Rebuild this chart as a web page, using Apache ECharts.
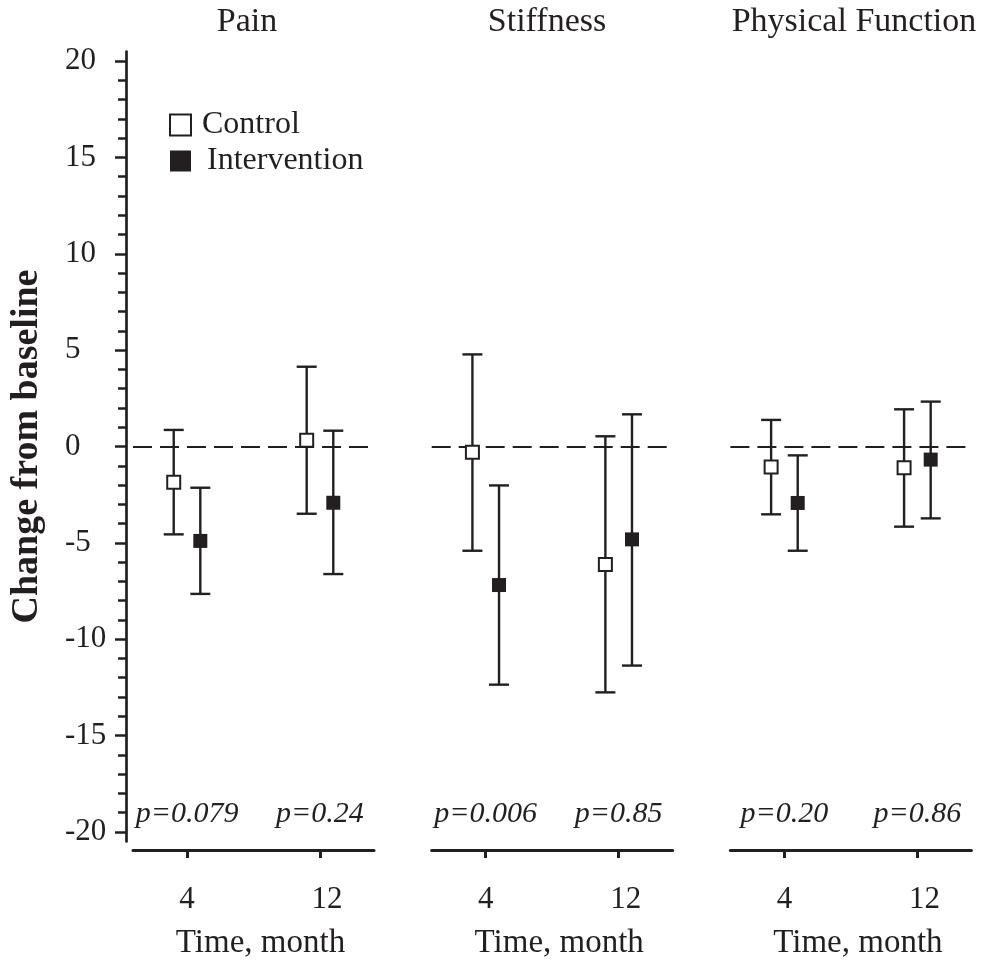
<!DOCTYPE html>
<html>
<head>
<meta charset="utf-8">
<style>
  html, body { margin: 0; padding: 0; background: #fff; }
  #chart { width: 983px; height: 963px; }
</style>
<script src="https://cdn.jsdelivr.net/npm/echarts@6/dist/echarts.min.js"></script>
</head>
<body>
<div id="chart"></div>
<script>
// Outcome panels and follow-up months
const panelTitles = ['Pain', 'Stiffness', 'Physical Function'];
const months = [4, 12];

// Mean change from baseline with 95% CI, ordered per panel: [4 mo, 12 mo]
const controlMean = [-1.85, 0.32, -0.30, -6.12, -1.06, -1.10];
const controlLow  = [-4.56, -3.49, -5.41, -12.76, -3.52, -4.16];
const controlHigh = [0.86, 4.14, 4.78, 0.53, 1.38, 1.93];

const interventionMean = [-4.90, -2.92, -7.19, -4.82, -2.93, -0.68];
const interventionLow  = [-7.65, -6.62, -12.36, -11.37, -5.41, -3.73];
const interventionHigh = [-2.14, 0.82, -2.02, 1.67, -0.46, 2.33];

// Between-group p-values per panel
const pValues = ['0.079', '0.24', '0.006', '0.85', '0.20', '0.86'];

// Axis ticks
const yMajorTicks = [-20, -15, -10, -5, 0, 5, 10, 15, 20];
const yMinorTicks = [];
for (let v = -20; v <= 20; v++) if (v % 5 !== 0) yMinorTicks.push(v);

const ink = '#231f20';
const serif = '"Liberation Serif", "Times New Roman", serif';
const dodge = 13.3;         // horizontal pixel shift of each group from the month tick
const capHalf = 10;         // half width of error-bar caps
const pLabelY = -19.1;      // vertical position of the p-value row in data units

const gridLefts = [133, 431.7, 730.4];
const gridWidth = 241;
const gridTop = 51.5;
const gridHeight = 790;

const chart = echarts.init(document.getElementById('chart'), null, { renderer: 'canvas' });

const grids = gridLefts.map(l => ({
  left: l, top: gridTop, width: gridWidth, height: gridHeight,
  containLabel: false, outerBoundsMode: 'none'
}));

const xAxes = gridLefts.map((l, i) => ({
  type: 'value', gridIndex: i, min: 0.75, max: 15.25, offset: 8.5, position: 'bottom',
  axisLine: { show: true, onZero: false, lineStyle: { color: ink, width: 3 } },
  axisTick: { show: true, customValues: months, length: 8, lineStyle: { color: ink, width: 3 } },
  axisLabel: {
    customValues: months, margin: 34,
    formatter: v => v === 12 ? '{s|12}' : '{n|' + v + '}',
    rich: {
      n: { fontFamily: serif, fontSize: 31, color: ink },
      s: { fontFamily: serif, fontSize: 31, color: ink, padding: [0, 0, 0, 14] }
    }
  },
  splitLine: { show: false },
  name: 'Time, month', nameLocation: 'middle', nameGap: 77,
  nameTextStyle: { fontFamily: serif, fontSize: 33, color: ink, padding: [0, 0, 0, 14] }
}));

const yBase = { type: 'value', min: -20.5, max: 20.5, splitLine: { show: false } };
const yAxes = [
  Object.assign({}, yBase, {
    gridIndex: 0, offset: 7, position: 'left',
    axisLine: { show: true, onZero: false, lineStyle: { color: ink, width: 2.7 } },
    axisTick: { show: true, customValues: yMajorTicks, length: 11, lineStyle: { color: ink, width: 2.5 } },
    axisLabel: {
      customValues: yMajorTicks, align: 'left', margin: 61,
      fontFamily: serif, fontSize: 31, color: ink
    },
    name: 'Change from baseline', nameLocation: 'middle', nameGap: 80,
    nameTextStyle: { fontFamily: serif, fontSize: 38, fontWeight: 'bold', color: ink }
  }),
  Object.assign({}, yBase, {
    gridIndex: 0, offset: 7, position: 'left',
    axisLine: { show: false, onZero: false },
    axisTick: { show: true, customValues: yMinorTicks, length: 8, lineStyle: { color: ink, width: 2.5 } },
    axisLabel: { show: false }
  }),
  Object.assign({}, yBase, { gridIndex: 1, show: false }),
  Object.assign({}, yBase, { gridIndex: 2, show: false })
];
const yIndexForPanel = [0, 2, 3];

function errorBarRenderer(shift) {
  return function (params, api) {
    const top = api.coord([api.value(0), api.value(2)]);
    const bot = api.coord([api.value(0), api.value(1)]);
    const cx = top[0] + shift;
    const style = { stroke: ink, lineWidth: 2.4 };
    return {
      type: 'group',
      children: [
        { type: 'line', shape: { x1: cx, y1: top[1], x2: cx, y2: bot[1] }, style },
        { type: 'line', shape: { x1: cx - capHalf, y1: top[1], x2: cx + capHalf, y2: top[1] }, style },
        { type: 'line', shape: { x1: cx - capHalf, y1: bot[1], x2: cx + capHalf, y2: bot[1] }, style }
      ]
    };
  };
}

const series = [];
panelTitles.forEach((title, p) => {
  const ax = { xAxisIndex: p, yAxisIndex: yIndexForPanel[p] };
  const idx = [2 * p, 2 * p + 1];
  const ctrlBars = idx.map((k, j) => [months[j], controlLow[k], controlHigh[k]]);
  const intBars = idx.map((k, j) => [months[j], interventionLow[k], interventionHigh[k]]);
  const ctrlPts = idx.map((k, j) => [months[j], controlMean[k]]);
  const intPts = idx.map((k, j) => [months[j], interventionMean[k]]);

  series.push(Object.assign({
    type: 'custom', name: 'ci-control-' + p, renderItem: errorBarRenderer(-dodge),
    encode: { x: 0, y: [1, 2] }, data: ctrlBars, silent: true, z: 3
  }, ax));
  series.push(Object.assign({
    type: 'custom', name: 'ci-intervention-' + p, renderItem: errorBarRenderer(dodge),
    encode: { x: 0, y: [1, 2] }, data: intBars, silent: true, z: 3
  }, ax));
  series.push(Object.assign({
    type: 'scatter', name: 'Control', data: ctrlPts, symbol: 'rect', symbolSize: 13,
    symbolOffset: [-dodge, 0], z: 5,
    itemStyle: { color: '#ffffff', borderColor: ink, borderWidth: 2, opacity: 1 },
    markLine: {
      silent: true, symbol: 'none', label: { show: false }, animation: false,
      lineStyle: { type: [19, 8], color: ink, width: 2 },
      emphasis: { disabled: true },
      data: [{ yAxis: 0 }]
    }
  }, ax));
  series.push(Object.assign({
    type: 'scatter', name: 'Intervention', data: intPts, symbol: 'rect', symbolSize: 14,
    symbolOffset: [dodge, 0], z: 5,
    itemStyle: { color: ink, opacity: 1 }
  }, ax));
  // p-value row under each panel
  series.push(Object.assign({
    type: 'custom', name: 'p-' + p, silent: true, z: 4,
    data: idx.map((k, j) => [months[j], pLabelY, pValues[k]]),
    encode: { x: 0, y: 1 },
    renderItem: (params, api) => {
      const pt = api.coord([api.value(0), api.value(1)]);
      return {
        type: 'text', x: pt[0], y: pt[1],
        style: {
          text: 'p=' + pValues[idx[params.dataIndex]], fill: ink,
          font: 'italic 30px ' + serif, align: 'center', verticalAlign: 'middle'
        }
      };
    }
  }, ax));
});

const titleCenters = [247, 547, 854];
const graphic = panelTitles.map((t, i) => ({
  type: 'text', x: titleCenters[i], y: 22,
  style: { text: t, fill: ink, font: '34px ' + serif, align: 'center', verticalAlign: 'middle' }
}));

chart.setOption({
  animation: false,
  backgroundColor: '#ffffff',
  grid: grids,
  xAxis: xAxes,
  yAxis: yAxes,
  legend: {
    orient: 'vertical', left: 164, top: 104, itemWidth: 21, itemHeight: 21, itemGap: 4,
    selectedMode: false,
    textStyle: { fontFamily: serif, fontSize: 32, color: ink },
    data: [
      { name: 'Control', textStyle: { padding: [0, 0, 0, 6] } },
      { name: 'Intervention', textStyle: { padding: [0, 0, 0, 11] } }
    ]
  },
  graphic: graphic,
  series: series
});
</script>
</body>
</html>
